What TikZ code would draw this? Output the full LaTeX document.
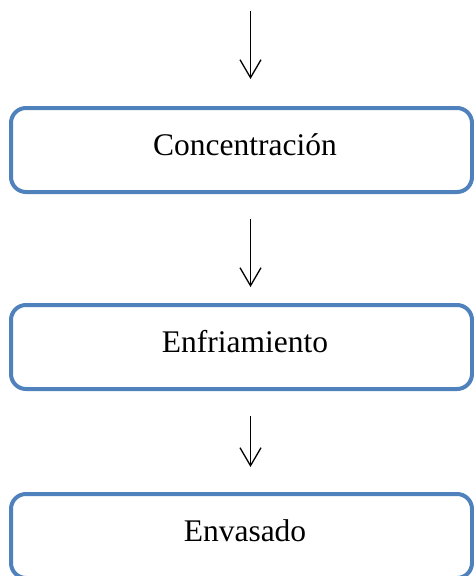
\documentclass[tikz,border=0pt]{standalone}
\usepackage{fontspec}
\setmainfont{Liberation Serif}
\usetikzlibrary{arrows.meta}
\definecolor{boxblue}{HTML}{4F81BD}
\begin{document}
\begin{tikzpicture}[x=1pt,y=1pt,
  stepbox/.style={draw=boxblue, line width=4pt, rounded corners=15pt, fill=white,
    minimum width=461pt, minimum height=84pt, inner sep=0pt, outer sep=0pt,
    text height=20pt, text depth=10pt, font=\fontsize{31.5}{36}\selectfont},
  arr/.style={line width=1.3pt, -{Straight Barb[length=18pt,width=21pt,line width=1.3pt]}}]
\useasboundingbox (0,0) rectangle (474,-576);
\node[stepbox] (c1) at (241.5,-150) {\hspace*{7pt}Concentración};
\node[stepbox] (c2) at (241.5,-347) {\hspace*{7pt}Enfriamiento};
\node[stepbox] (c3) at (241.5,-536) {\hspace*{7pt}Envasado};
\coordinate (s0) at (250.5,-11);
\draw[arr] (s0) -- ([xshift=9pt,yshift=29pt]c1.north);
\draw[arr] ([xshift=9pt,yshift=-27pt]c1.south) -- ([xshift=9pt,yshift=18pt]c2.north);
\draw[arr] ([xshift=9pt,yshift=-27pt]c2.south) -- ([xshift=9pt,yshift=27pt]c3.north);
\end{tikzpicture}
\end{document}
